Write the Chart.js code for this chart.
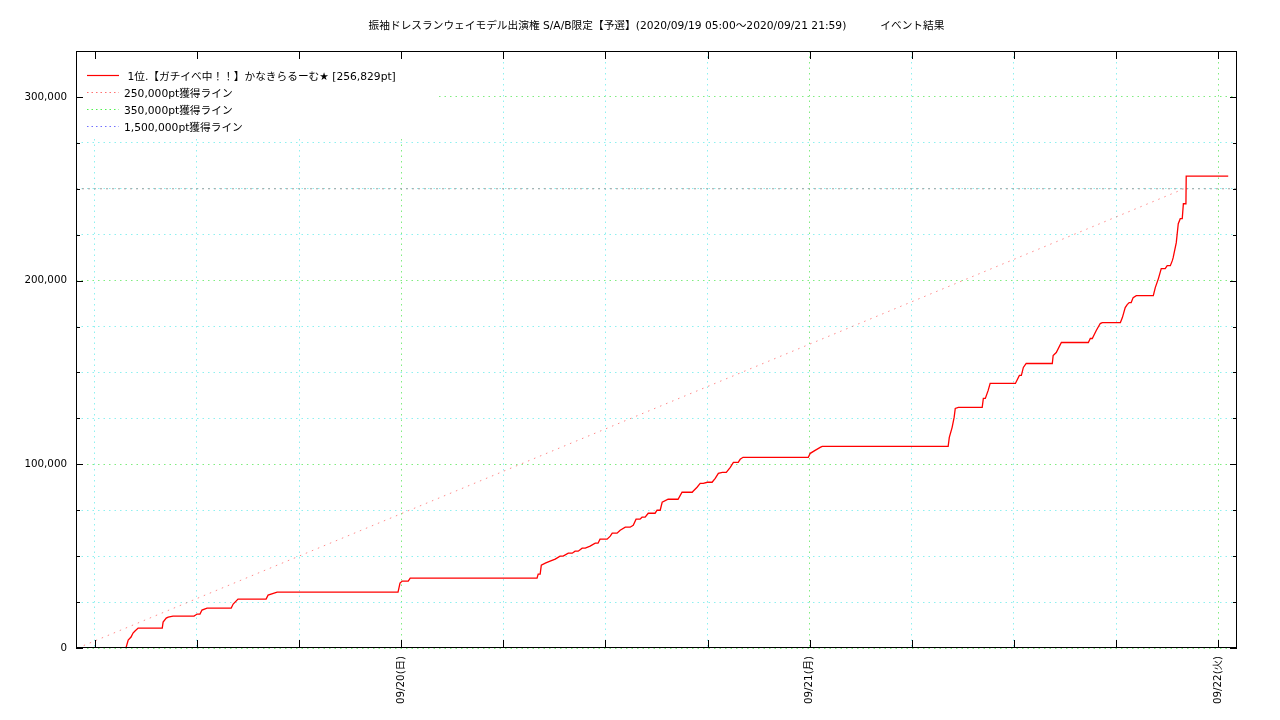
<!DOCTYPE html>
<html>
<head>
<meta charset="utf-8">
<script src="https://cdn.jsdelivr.net/npm/chart.js@4/dist/chart.umd.min.js"></script>
<style>
html, body { margin: 0; padding: 0; background: #fff; }
</style>
</head>
<body>
<canvas id="myChart" width="1280" height="720"></canvas>
<script>
const titleText = '振袖ドレスランウェイモデル出演権 S/A/B限定【予選】(2020/09/19 05:00～2020/09/21 21:59)          イベント結果';

// 1位 の推移 (MM/DD hh:mm, pt)
const seriesName = ' 1位.【ガチイベ中！！】かなきらるーむ★ [256,829pt]';
const times = [
    '09/19 07:50', '09/19 07:58', '09/19 08:08', '09/19 08:15', '09/19 08:22', '09/19 08:33', '09/19 09:58', '09/19 10:01',
    '09/19 10:12', '09/19 10:19', '09/19 10:36', '09/19 11:50', '09/19 12:01', '09/19 12:11', '09/19 12:18', '09/19 12:36',
    '09/19 14:01', '09/19 14:08', '09/19 14:25', '09/19 16:04', '09/19 16:11', '09/19 16:43', '09/19 23:49', '09/19 23:56',
    '09/20 00:04', '09/20 00:25', '09/20 00:32', '09/20 07:59', '09/20 08:03', '09/20 08:10', '09/20 08:14', '09/20 08:28',
    '09/20 08:45', '09/20 09:03', '09/20 09:20', '09/20 09:31', '09/20 09:49', '09/20 10:03', '09/20 10:13', '09/20 10:24',
    '09/20 10:38', '09/20 10:49', '09/20 11:06', '09/20 11:24', '09/20 11:34', '09/20 11:41', '09/20 12:06', '09/20 12:17',
    '09/20 12:24', '09/20 12:41', '09/20 12:52', '09/20 13:10', '09/20 13:27', '09/20 13:38', '09/20 13:48', '09/20 14:02',
    '09/20 14:09', '09/20 14:20', '09/20 14:31', '09/20 14:55', '09/20 15:02', '09/20 15:13', '09/20 15:20', '09/20 15:41',
    '09/20 16:16', '09/20 16:30', '09/20 17:06', '09/20 17:09', '09/20 17:23', '09/20 17:34', '09/20 17:45', '09/20 17:59',
    '09/20 18:16', '09/20 18:27', '09/20 18:38', '09/20 18:52', '09/20 19:06', '09/20 19:20', '09/20 19:31', '09/20 19:48',
    '09/20 19:55', '09/20 20:05', '09/20 23:55', '09/21 00:02', '09/21 00:19', '09/21 00:37', '09/21 00:44', '09/21 08:08',
    '09/21 08:12', '09/21 08:22', '09/21 08:29', '09/21 08:33', '09/21 08:44', '09/21 10:08', '09/21 10:12', '09/21 10:19',
    '09/21 10:29', '09/21 10:36', '09/21 12:05', '09/21 12:19', '09/21 12:26', '09/21 12:33', '09/21 12:43', '09/21 14:15',
    '09/21 14:18', '09/21 14:29', '09/21 14:47', '09/21 16:22', '09/21 16:29', '09/21 16:36', '09/21 16:43', '09/21 16:50',
    '09/21 17:04', '09/21 17:11', '09/21 18:15', '09/21 18:22', '09/21 18:32', '09/21 18:39', '09/21 18:46', '09/21 18:53',
    '09/21 19:00', '09/21 19:11', '09/21 20:11', '09/21 20:18', '09/21 20:29', '09/21 20:39', '09/21 20:53', '09/21 21:00',
    '09/21 21:11', '09/21 21:18', '09/21 21:21', '09/21 21:32', '09/21 21:39', '09/21 21:46', '09/21 21:53', '09/21 21:57',
    '09/21 22:06', '09/21 22:07', '09/22 00:35'
];
const points = [
    0, 4350, 5980, 8150, 9240, 10870, 10870, 14130,
    16300, 16850, 17390, 17390, 18480, 18480, 20650, 21740,
    21740, 23910, 26630, 26630, 28800, 30430, 30430, 35330,
    36410, 36410, 38040, 38040, 40220, 40220, 45110, 46200,
    47280, 48370, 50000, 50000, 51630, 51630, 52720, 52720,
    54350, 54350, 55430, 57070, 57070, 59240, 59240, 60870,
    62500, 62500, 64130, 65760, 65760, 66850, 70110, 70110,
    71200, 71200, 73370, 73370, 75000, 75000, 79350, 80980,
    80980, 84780, 84780, 85330, 87500, 89670, 89670, 90220,
    90220, 92390, 95110, 95650, 95650, 98370, 101090, 101090,
    102720, 103800, 103800, 105980, 107610, 109240, 109780, 109780,
    114670, 120110, 125540, 130430, 130980, 130980, 135870, 135870,
    140220, 144020, 144020, 148370, 148370, 152720, 154890, 154890,
    159240, 160870, 166300, 166300, 168480, 168480, 170650, 172830,
    176630, 177170, 177170, 179890, 185330, 186960, 188040, 188040,
    190760, 191850, 191850, 196200, 201090, 206520, 206520, 208150,
    208150, 210870, 212500, 220650, 230980, 233700, 233700, 241850,
    241850, 256829, 256829
];

// 獲得ライン
const lineNames = ['250,000pt獲得ライン', '350,000pt獲得ライン', '1,500,000pt獲得ライン'];
const paceTimes = ['09/19 05:00', '09/21 21:59'];
const paceValues = [0, 250000];
const borderValue = 250000;

const dayTicks = [24, 48, 72];
const dayLabels = ['09/20(日)', '09/21(月)', '09/22(火)'];

const xMin = 4.9;
const xMax = 73.1;

const FONT = '"DejaVu Sans", "Noto Sans CJK JP", sans-serif';
const FONT_SIZE = 10.3;
const TEXT_SIZE = 10.7;
const CYAN = '#8ef0f0';
const GREEN = '#80ec80';

// hours since 09/19 00:00
function toHours(s) {
    const [md, hm] = s.split(' ');
    const day = parseInt(md.split('/')[1], 10);
    const [h, m] = hm.split(':').map(Number);
    return (day - 19) * 24 + h + m / 60;
}

const seriesData = times.map((t, i) => ({ x: toHours(t), y: points[i] }));
const paceData = paceTimes.map((t, i) => ({ x: toHours(t), y: paceValues[i] }));

const legendRows = [
    { label: seriesName, color: '#ff0000', dash: [], width: 1.2 },
    { label: lineNames[0], color: '#ff7070', dash: [1.5, 3], width: 1 },
    { label: lineNames[1], color: '#50f050', dash: [1.5, 3], width: 1 },
    { label: lineNames[2], color: '#7070ff', dash: [1.5, 3], width: 1 }
];

const gnuFrame = {
    id: 'gnuFrame',
    beforeDraw(chart) {
        const ctx = chart.ctx;
        ctx.save();
        ctx.fillStyle = '#fff';
        ctx.fillRect(0, 0, chart.width, chart.height);
        ctx.restore();
    },
    afterDraw(chart) {
        const { ctx, chartArea: a, scales: { x, y } } = chart;
        ctx.save();

        // legend box
        ctx.fillStyle = '#fff';
        ctx.fillRect(a.left + 1, a.top + 1, 358, 86);
        ctx.font = TEXT_SIZE + 'px ' + FONT;
        ctx.textBaseline = 'middle';
        ctx.textAlign = 'left';
        legendRows.forEach((row, i) => {
            const ly = Math.round(a.top + 24 + 17 * i) + 0.5;
            ctx.strokeStyle = row.color;
            ctx.lineWidth = row.width;
            ctx.setLineDash(row.dash);
            ctx.beginPath();
            ctx.moveTo(a.left + 11, ly);
            ctx.lineTo(a.left + 43, ly);
            ctx.stroke();
            ctx.fillStyle = '#000';
            ctx.fillText(row.label, a.left + 48, ly + 2);
        });
        ctx.setLineDash([]);

        // inward tick marks on all four sides
        ctx.strokeStyle = '#000';
        ctx.lineWidth = 1;
        ctx.beginPath();
        x.ticks.forEach(t => {
            const px = Math.round(x.getPixelForValue(t.value)) + 0.5;
            ctx.moveTo(px, a.bottom);
            ctx.lineTo(px, a.bottom - 8);
            ctx.moveTo(px, a.top);
            ctx.lineTo(px, a.top + 8);
        });
        y.ticks.forEach(t => {
            const py = Math.round(y.getPixelForValue(t.value)) + 0.5;
            const len = t.value % 100000 === 0 ? 7 : 4;
            ctx.moveTo(a.left, py);
            ctx.lineTo(a.left + len, py);
            ctx.moveTo(a.right, py);
            ctx.lineTo(a.right - len, py);
        });
        ctx.stroke();

        // border
        ctx.strokeRect(Math.round(a.left) + 0.5, Math.round(a.top) + 0.5, Math.round(a.width) - 1, Math.round(a.height) - 1);

        // title
        ctx.fillStyle = '#000';
        ctx.font = TEXT_SIZE + 'px ' + FONT;
        ctx.textAlign = 'center';
        ctx.fillText(titleText, (a.left + a.right) / 2, 26);
        ctx.restore();
    }
};

new Chart(document.getElementById('myChart').getContext('2d'), {
    type: 'line',
    data: {
        datasets: [
            {
                label: seriesName,
                data: seriesData,
                borderColor: '#ff0000',
                borderWidth: 1.3,
                pointRadius: 0,
                tension: 0,
                fill: false,
                order: 0
            },
            {
                label: lineNames[0],
                data: paceData,
                borderColor: 'rgba(255, 60, 60, 0.6)',
                borderWidth: 1,
                borderDash: [1.5, 5],
                pointRadius: 0,
                fill: false,
                order: 1
            },
            {
                label: lineNames[1],
                data: [],
                borderColor: '#70ff70',
                borderWidth: 1,
                borderDash: [1.5, 5],
                pointRadius: 0
            },
            {
                label: lineNames[2],
                data: [],
                borderColor: '#8080ff',
                borderWidth: 1,
                borderDash: [1.5, 5],
                pointRadius: 0
            },
            {
                label: 'border',
                data: [{ x: xMin, y: borderValue }, { x: xMax, y: borderValue }],
                borderColor: '#a0a0a0',
                borderWidth: 1,
                borderDash: [2, 4],
                pointRadius: 0,
                order: 2
            }
        ]
    },
    options: {
        responsive: false,
        animation: false,
        layout: { padding: { top: 51, right: 43, left: 0, bottom: 0 } },
        plugins: {
            legend: { display: false },
            title: { display: false },
            tooltip: { enabled: false }
        },
        scales: {
            x: {
                type: 'linear',
                min: xMin,
                max: xMax,
                afterFit: (scale) => { scale.height = 72; },
                grid: {
                    drawTicks: false,
                    lineWidth: 1,
                    color: (c) => (c.tick && c.tick.value % 24 === 0 ? GREEN : CYAN)
                },
                border: { display: false, dash: [1.5, 4] },
                ticks: {
                    stepSize: 6,
                    autoSkip: false,
                    includeBounds: false,
                    minRotation: 90,
                    maxRotation: 90,
                    padding: 8,
                    color: '#000',
                    font: { family: FONT, size: FONT_SIZE },
                    callback: (v) => (v % 24 === 0 ? dayLabels[dayTicks.indexOf(v)] : '')
                }
            },
            y: {
                min: 0,
                max: 325000,
                afterFit: (scale) => { scale.width = 76; },
                grid: {
                    drawTicks: false,
                    lineWidth: 1,
                    color: (c) => (c.tick && c.tick.value % 100000 === 0 ? GREEN : CYAN)
                },
                border: { display: false, dash: [1.5, 4] },
                ticks: {
                    stepSize: 25000,
                    autoSkip: false,
                    padding: 9,
                    color: '#000',
                    font: { family: FONT, size: FONT_SIZE },
                    callback: (v) => (v % 100000 === 0 ? v.toLocaleString('en-US') : '')
                }
            }
        }
    },
    plugins: [gnuFrame]
});
</script>
</body>
</html>
